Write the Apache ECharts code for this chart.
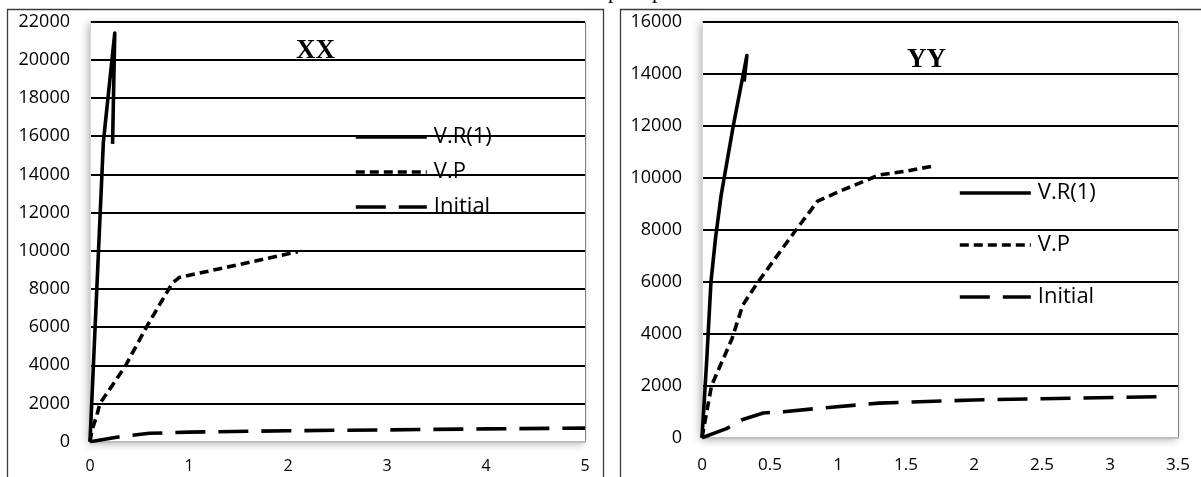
<!DOCTYPE html>
<html>
<head>
<meta charset="utf-8">
<script src="https://cdn.jsdelivr.net/npm/echarts@6/dist/echarts.min.js"></script>
<style>
  html, body { margin: 0; padding: 0; background: #fff; }
  #chart { width: 1201px; height: 477px; }
</style>
</head>
<body>
<div id="chart"></div>
<script>
// Load–displacement curves, two directions (XX and YY)
// Each point is [displacement, load]

// XX direction
const xxVR = [[0, 0], [0.135, 15700], [0.25, 21400], [0.228, 15600]];
const xxVP = [[0, 0], [0.02, 600], [0.07, 1400], [0.10, 2000], [0.35, 3900], [0.57, 6000],
              [0.83, 8300], [0.9, 8600], [2.1, 9950]];
const xxInitial = [[0, 0], [0.3, 260], [0.6, 440], [1, 500], [2, 575], [3, 620], [4, 670], [5, 710]];

// YY direction
const yyVR = [[0, 0], [0.035, 3000], [0.066, 6000], [0.1, 7700], [0.14, 9300], [0.23, 12000],
              [0.33, 14700], [0.31, 13700]];
const yyVP = [[0, 0], [0.07, 2000], [0.22, 3800], [0.3, 5100], [0.4, 5900], [0.65, 7700],
              [0.85, 9100], [1.0, 9450], [1.3, 10100], [1.5, 10250], [1.7, 10450]];
const yyInitial = [[0, 0], [0.18, 350], [0.3, 700], [0.45, 950], [0.6, 1000], [0.9, 1150],
                   [1.3, 1330], [2, 1450], [2.5, 1500], [3.4, 1580]];

const seriesNames = ['V.R(1)', 'V.P', 'Initial'];
const panelTitles = ['XX', 'YY'];

const FONT = '"Open Sans", "Liberation Sans", sans-serif';
const LINE_W = 3.6;

const dashStyles = {
  'V.R(1)': 'solid',
  'V.P': [9, 5],
  'Initial': [30, 13]
};

function lineSeries(name, data, idx) {
  return {
    name: name,
    type: 'line',
    xAxisIndex: idx,
    yAxisIndex: idx * 2,
    data: data,
    showSymbol: false,
    symbol: 'none',
    smooth: false,
    z: 5,
    lineStyle: { color: '#000', width: LINE_W, type: dashStyles[name], cap: 'butt', join: 'round' },
    itemStyle: { color: '#000' }
  };
}

function valueY(gridIndex, max, dotted) {
  if (dotted) {
    return {
      type: 'value', gridIndex: gridIndex, min: 0, max: max, interval: 2000, position: 'right',
      axisLine: { show: true, lineStyle: { color: '#6e6e6e', width: 1, type: 'dotted' } },
      axisTick: { show: false }, axisLabel: { show: false }, splitLine: { show: false }
    };
  }
  return {
    type: 'value', gridIndex: gridIndex, min: 0, max: max, interval: 2000, position: 'left',
    axisLine: { show: true, lineStyle: { color: '#d9d9d9', width: 1 } },
    axisTick: { show: false },
    axisLabel: { color: '#000', fontSize: 18, fontFamily: FONT, margin: 20,
                 formatter: v => String(v) },
    splitLine: { show: true, showMinLine: false, lineStyle: { color: '#000', width: 1.8 } }
  };
}

function valueX(gridIndex, max, interval, fontSize, margin) {
  return {
    type: 'value', gridIndex: gridIndex, min: 0, max: max, interval: interval,
    z: 3,
    axisLine: { show: true, onZero: false, lineStyle: { color: '#bfbfbf', width: 2 } },
    axisTick: { show: false },
    axisLabel: { color: '#000', fontSize: fontSize, fontFamily: FONT, margin: margin,
                 formatter: v => String(v) },
    splitLine: { show: false }
  };
}

const gridShadow = {
  show: true, backgroundColor: '#fff', borderWidth: 0,
  shadowBlur: 8, shadowColor: 'rgba(0,0,0,0.3)', shadowOffsetX: -2, shadowOffsetY: 2
};

// One legend entry per component, so each can carry its own line dash
function legendEntry(name, left, top) {
  return {
    orient: 'vertical',
    left: left,
    top: top,
    padding: 0,
    itemWidth: 71,
    itemHeight: 14,
    selectedMode: false,
    itemStyle: { color: 'rgba(0,0,0,0)', borderWidth: 0, opacity: 0 },
    lineStyle: { color: '#000', width: LINE_W, type: dashStyles[name], cap: 'butt' },
    textStyle: { color: '#000', fontSize: 22, fontFamily: FONT, lineHeight: 24, padding: [0, 0, 0, 2] },
    data: [name]
  };
}

const legends = [];
seriesNames.forEach((n, i) => legends.push(legendEntry(n, 354, 125 + i * 35)));
seriesNames.forEach((n, i) => legends.push(legendEntry(n, 958, 181 + i * 52)));

const chart = echarts.init(document.getElementById('chart'), null, { renderer: 'canvas' });

chart.setOption({
  animation: false,
  backgroundColor: '#fff',
  grid: [
    Object.assign({ left: 90, top: 21.7, width: 495, height: 420 }, gridShadow),
    Object.assign({ left: 702, top: 21.7, width: 476, height: 416 }, gridShadow)
  ],
  xAxis: [
    valueX(0, 5, 1, 16, 17),
    valueX(1, 3.5, 0.5, 17, 19)
  ],
  yAxis: [
    valueY(0, 22000, false),
    valueY(0, 22000, true),
    valueY(1, 16000, false),
    valueY(1, 16000, true)
  ],
  legend: legends,
  graphic: [
    // chart area frames
    { type: 'rect', silent: true, z: -10,
      shape: { x: 7.5, y: 9.5, width: 596, height: 520 },
      style: { fill: 'none', stroke: '#3a3a3a', lineWidth: 1.3 } },
    { type: 'rect', silent: true, z: -10,
      shape: { x: 620.5, y: 9.5, width: 620, height: 520 },
      style: { fill: 'none', stroke: '#3a3a3a', lineWidth: 1.3 } },
    // panel titles
    { type: 'text', silent: true, z: 20, left: 296, top: 38,
      style: { text: panelTitles[0], font: 'bold 27px "Liberation Serif", serif', fill: '#000' } },
    { type: 'text', silent: true, z: 20, left: 907, top: 47,
      style: { text: panelTitles[1], font: 'bold 27px "Liberation Serif", serif', fill: '#000' } },
    // caption text running above the figure
    { type: 'text', silent: true, x: 608, y: -8,
      style: { text: 'p', font: '22px "Liberation Serif", serif', fill: '#000', verticalAlign: 'middle' } },
    { type: 'text', silent: true, x: 652, y: -8,
      style: { text: 'p', font: '22px "Liberation Serif", serif', fill: '#000', verticalAlign: 'middle' } }
  ],
  series: [
    lineSeries('V.R(1)', xxVR, 0),
    lineSeries('V.P', xxVP, 0),
    lineSeries('Initial', xxInitial, 0),
    lineSeries('V.R(1)', yyVR, 1),
    lineSeries('V.P', yyVP, 1),
    lineSeries('Initial', yyInitial, 1)
  ]
});
</script>
</body>
</html>
